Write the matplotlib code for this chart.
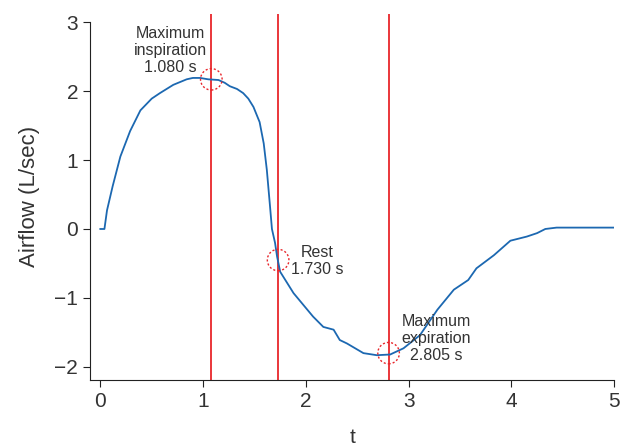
import matplotlib.pyplot as plt
from matplotlib.patches import Ellipse

plt.rcParams['font.family'] = ['Liberation Sans', 'DejaVu Sans']

# airflow trace
t = [0, 0.04, 0.065, 0.12, 0.195, 0.29, 0.39, 0.50, 0.58, 0.71, 0.84, 0.90,
     0.97, 1.05, 1.15, 1.21, 1.26, 1.33, 1.39, 1.44, 1.49, 1.55, 1.59, 1.62,
     1.65, 1.67, 1.70, 1.72, 1.75, 1.88, 2.07, 2.17, 2.27, 2.33, 2.40, 2.56,
     2.69, 2.82, 2.95, 3.11, 3.28, 3.44, 3.58, 3.66, 3.83, 3.99, 4.15, 4.25,
     4.33, 4.44, 5.0]
airflow = [0, 0, 0.27, 0.62, 1.05, 1.42, 1.72, 1.89, 1.97, 2.09, 2.17, 2.19,
           2.19, 2.17, 2.16, 2.12, 2.07, 2.03, 1.97, 1.89, 1.77, 1.55, 1.24,
           0.86, 0.35, 0.0, -0.2, -0.40, -0.62, -0.93, -1.27, -1.42, -1.46,
           -1.61, -1.66, -1.80, -1.83, -1.82, -1.73, -1.54, -1.17, -0.88, -0.74,
           -0.57, -0.38, -0.17, -0.11, -0.06, 0.0, 0.02, 0.02]

# marked events
event_t = [1.080, 1.730, 2.805]
event_v = [2.17, -0.45, -1.80]
event_text = ['Maximum\ninspiration\n1.080 s', 'Rest\n1.730 s', 'Maximum\nexpiration\n2.805 s']
text_pos = [(0.68, 2.59), (2.11, -0.46), (3.27, -1.59)]

fig = plt.figure(figsize=(6.21, 4.45), dpi=100)
ax = fig.add_axes([0.145, 0.146, 0.844, 0.823])

txt = '#333333'
red = '#e8262b'

for x in event_t:
    ax.axvline(x, color=red, lw=1.3, zorder=1)

ax.plot(t, airflow, color='#1c68b1', lw=1.3, zorder=2)

for x, y in zip(event_t, event_v):
    ax.add_patch(Ellipse((x, y), 0.21, 0.31, fill=False, ec=red, lw=1.0,
                         ls=(0, (1.5, 1.5)), zorder=3))

for s, (x, y) in zip(event_text, text_pos):
    ax.text(x, y, s, ha='center', va='center', fontsize=11.5, color=txt,
            linespacing=1.15)

ax.set_xlim(-0.1, 5)
ax.set_ylim(-2.19, 3.12)
ax.set_xticks([0, 1, 2, 3, 4, 5])
ax.set_yticks([-2, -1, 0, 1, 2, 3])
ax.set_yticklabels(['\u22122', '\u22121', '0', '1', '2', '3'])
ax.spines['top'].set_visible(False)
ax.spines['right'].set_visible(False)
ax.spines['left'].set_bounds(-2.19, 3)
for sp in ['left', 'bottom']:
    ax.spines[sp].set_color('#222222')
ax.tick_params(direction='out', length=5, labelsize=15, colors='#222222',
               labelcolor=txt)
ax.set_xlabel('t', fontsize=15, color=txt, labelpad=12)
ax.set_ylabel('Airflow (L/sec)', fontsize=16, color=txt, labelpad=10)

fig.savefig('out.png', dpi=100)
